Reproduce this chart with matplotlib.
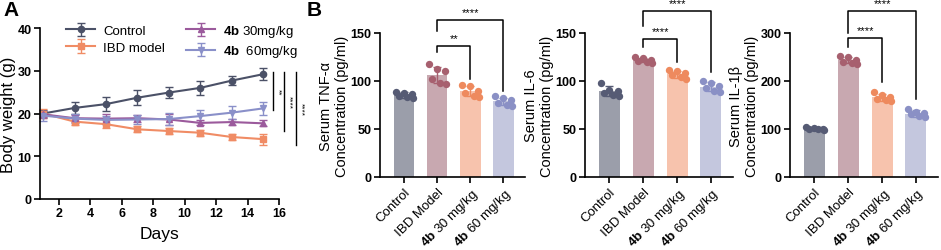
import numpy as np
import matplotlib
matplotlib.use("Agg")
import matplotlib.pyplot as plt

plt.rcParams['font.family'] = ['Liberation Sans', 'DejaVu Sans']
plt.rcParams['mathtext.fontset'] = 'custom'
plt.rcParams['mathtext.rm'] = 'Liberation Sans'
plt.rcParams['mathtext.bf'] = 'Liberation Sans:bold'
plt.rcParams['axes.linewidth'] = 1.2

# ---- panel A data: body weight ----
days = [1, 3, 5, 7, 9, 11, 13, 15]
control_w = [20.0, 21.3, 22.2, 23.7, 24.9, 26.0, 27.7, 29.2]
control_e = [0.8, 1.5, 1.6, 1.8, 1.2, 1.6, 1.1, 1.4]
ibd_w = [20.0, 18.1, 17.5, 16.3, 15.9, 15.5, 14.5, 14.0]
ibd_e = [1.0, 0.8, 1.0, 0.7, 0.6, 0.7, 0.6, 1.3]
d30_w = [19.8, 18.9, 18.8, 18.9, 18.6, 17.8, 18.0, 17.7]
d30_e = [0.8, 0.8, 1.2, 0.8, 1.3, 0.6, 0.8, 0.7]
d60_w = [19.5, 18.8, 18.5, 18.6, 18.7, 19.4, 20.2, 21.2]
d60_e = [1.2, 1.0, 0.9, 1.0, 1.5, 1.4, 1.5, 1.5]

# ---- panel B data: serum cytokines ----
groups = ["Control", "IBD Model", r"$\mathbf{4b}$ 30 mg/kg", r"$\mathbf{4b}$ 60 mg/kg"]
tnf = [[89, 88, 86, 84, 83, 82],
       [118, 113, 110, 102, 98, 97],
       [96, 95, 90, 88, 84, 83],
       [84, 82, 80, 77, 75, 74]]
il6 = [[98, 91, 90, 87, 85, 84],
       [125, 124, 122, 121, 120, 119],
       [111, 110, 108, 106, 104, 102],
       [100, 98, 95, 93, 90, 89]]
il1b = [[104, 102, 101, 100, 99, 98],
        [252, 250, 243, 240, 238, 236],
        [177, 170, 166, 163, 160, 159],
        [142, 136, 133, 131, 127, 124]]

line_cols = ['#4b5167', '#f08c65', '#9b5a9c', '#8a90c9']
bar_cols = ['#9b9eaa', '#c8a8b0', '#f7c3ad', '#c4c7de']
dot_cols = ['#565b74', '#a7606f', '#ee8a5e', '#8a90c5']

fig = plt.figure(figsize=(9.41, 2.51), dpi=100)

# ---------------- A ----------------
axA = fig.add_axes([40/941, 1-200/251, 239/941, 171/251])
series = [(control_w, control_e, 'o', 'Control'),
          (ibd_w, ibd_e, 's', 'IBD model'),
          (d30_w, d30_e, '^', r'$\mathbf{4b}$ 30mg/kg'),
          (d60_w, d60_e, 'v', r'$\mathbf{4b}$  60mg/kg')]
for (w, e, m, lab), c in zip(series, line_cols):
    axA.errorbar(days, w, yerr=e, color=c, marker=m, markersize=4.5,
                 lw=1.5, capsize=3, elinewidth=1, label=lab, clip_on=False)
axA.set_xlim(0.8, 16)
axA.set_ylim(0, 40)
axA.set_xticks(range(2, 17, 2))
axA.set_yticks([0, 10, 20, 30, 40])
for s in ['top', 'right']:
    axA.spines[s].set_visible(False)
axA.tick_params(labelsize=9, width=1.2, length=4, pad=2)
for t in axA.get_xticklabels() + axA.get_yticklabels():
    t.set_fontweight('bold')
axA.set_xlabel('Days', fontsize=12.5, labelpad=5)
axA.set_ylabel('Body weight (g)', fontsize=12, labelpad=1)
axA.legend(loc='upper left', bbox_to_anchor=(0.06, 1.1), ncol=2, frameon=False,
           fontsize=9.5, handlelength=2.2, columnspacing=1.6, labelspacing=0.35,
           handletextpad=0.6)
# significance lines
for xl, yb, st in [(15.62, 20.8, '**'), (16.32, 15.9, '****'), (17.08, 12.6, '****')]:
    axA.plot([xl, xl], [29.7, yb], color='black', lw=1, clip_on=False)
    axA.text(xl + 0.3, (29.7 + yb) / 2, st, rotation=-90, ha='center', va='center',
             fontsize=6, clip_on=False)

fig.text(3/941, 1-10/251, 'A', fontsize=15, fontweight='bold', va='center')
fig.text(307/941, 1-10/251, 'B', fontsize=15, fontweight='bold', va='center')

# ---------------- B ----------------
offsets = [-0.24, 0.0, 0.24, -0.15, 0.1, 0.27]
panels = [
    (tnf, 'Serum TNF-\u03b1\nConcentration (pg/ml)', 150, [0, 50, 100, 150], 380, 525,
     [(1, 2, 136, 130, 102, '**'), (1, 3, 164, 152, 90, '****')]),
    (il6, 'Serum IL-6\nConcentration (pg/ml)', 150, [0, 50, 100, 150], 585, 733,
     [(1, 2, 144, 135, 120, '****'), (1, 3, 173, 157, 109, '****')]),
    (il1b, 'Serum IL-1\u03b2\nConcentration (pg/ml)', 300, [0, 100, 200, 300], 790, 938,
     [(1, 2, 290, 271, 198, '****'), (1, 3, 346, 300, 162, '****')]),
]
for data, ylab, ymax, yt, xl, xr, brackets in panels:
    ax = fig.add_axes([xl/941, 1-178/251, (xr-xl)/941, 144/251])
    x = np.arange(len(groups))
    means = [np.mean(d) for d in data]
    sds = [np.std(d, ddof=1) for d in data]
    ax.bar(x, means, width=0.62, color=bar_cols, zorder=1)
    for i, d in enumerate(data):
        ax.errorbar(i, means[i], yerr=sds[i], fmt='none', ecolor=dot_cols[i],
                    capsize=3, elinewidth=1, zorder=2)
        ax.scatter(i + np.array(offsets[:len(d)]), d, s=28, color=dot_cols[i],
                   zorder=3, linewidths=0)
    ax.set_xlim(-0.72, 3.65)
    ax.set_ylim(0, ymax)
    ax.set_yticks(yt)
    ax.set_xticks(x)
    ax.set_xticklabels(groups, rotation=45, ha='right', rotation_mode='anchor',
                       fontsize=9.5)
    for s in ['top', 'right']:
        ax.spines[s].set_visible(False)
    ax.tick_params(axis='y', labelsize=9, width=1.2, length=4, pad=2)
    ax.tick_params(axis='x', width=1.2, length=4, pad=2)
    for t in ax.get_yticklabels():
        t.set_fontweight('bold')
    ax.set_ylabel(ylab, fontsize=10.5, labelpad=1)
    for a, b, top, ya, yb, st in brackets:
        ax.plot([a, a, b, b], [ya, top, top, yb], color='black', lw=1.1, clip_on=False)
        ax.text((a + b) / 2, top + ymax * 0.02, st, ha='center', va='bottom',
                fontsize=8, clip_on=False)

fig.savefig('out.png', dpi=100)
